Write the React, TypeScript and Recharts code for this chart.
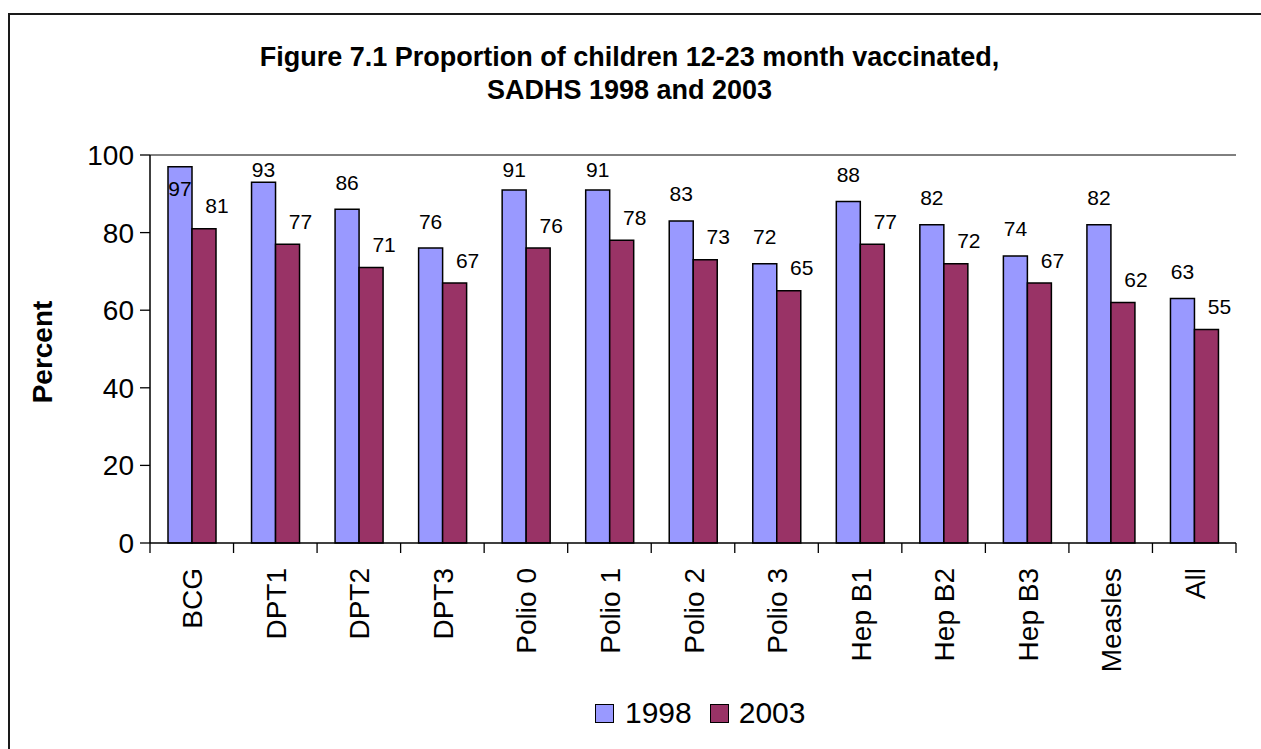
import React from "react";
import { Bar, BarChart, LabelList, ReferenceLine, XAxis, YAxis } from "recharts";

const categories = [
  "BCG",
  "DPT1",
  "DPT2",
  "DPT3",
  "Polio 0",
  "Polio 1",
  "Polio 2",
  "Polio 3",
  "Hep B1",
  "Hep B2",
  "Hep B3",
  "Measles",
  "All",
];
const values1998 = [97, 93, 86, 76, 91, 91, 83, 72, 88, 82, 74, 82, 63];
const values2003 = [81, 77, 71, 67, 76, 78, 73, 65, 77, 72, 67, 62, 55];
const yTicks = [0, 20, 40, 60, 80, 100];
const seriesNames = ["1998", "2003"];

const W = 1261;
const H = 749;
const PLOT = { left: 150, top: 155, right: 1236, bottom: 543 };
const FONT = "Arial, 'Liberation Sans', sans-serif";
const BLUE = "#9999FF";
const MAROON = "#993366";

const rows = categories.map((name, i) => ({
  name,
  y1998: values1998[i],
  y2003: values2003[i],
}));

// ticks sit on category boundaries, labels read bottom-to-top
function CategoryTick(props: any) {
  const { x, y, payload, index } = props;
  const step = (PLOT.right - PLOT.left) / categories.length;
  const last = index === categories.length - 1;
  return (
    <g>
      <line x1={x - step / 2} x2={x - step / 2} y1={y} y2={y + 10} stroke="#000" strokeWidth={1.3} />
      {last && <line x1={x + step / 2} x2={x + step / 2} y1={y} y2={y + 10} stroke="#000" strokeWidth={1.3} />}
      <text
        x={0}
        y={0}
        transform={`translate(${x + 1}, ${y + 25}) rotate(-90)`}
        textAnchor="end"
        dominantBaseline="central"
        fontFamily={FONT}
        fontSize={28}
        fill="#000"
      >
        {payload.value}
      </text>
    </g>
  );
}

// 1998 labels sit above the bar; near the top they are pushed inside it
function label1998(props: any) {
  const { x, y, width, value } = props;
  const above = y - 27;
  const cy = above < 150 ? y + 22 : Math.max(above, 169);
  return (
    <text x={x + width / 2} y={cy} textAnchor="middle" dominantBaseline="central" fontFamily={FONT} fontSize={21} fill="#000">
      {value}
    </text>
  );
}

function label2003(props: any) {
  const { x, y, width, value } = props;
  return (
    <text x={x + width / 2 + 13} y={y - 23} textAnchor="middle" dominantBaseline="central" fontFamily={FONT} fontSize={21} fill="#000">
      {value}
    </text>
  );
}

export default function App() {
  const yAxisW = 60;
  const xAxisH = 100;
  return (
    <div style={{ position: "absolute", left: 0, top: 0, width: W, height: H, background: "#fff", overflow: "hidden", fontFamily: FONT }}>
      <div
        style={{
          position: "absolute",
          left: 8,
          top: 13,
          width: W + 20,
          height: H - 15,
          border: "2px solid #1a1a1a",
          borderBottomColor: "#bbb",
          borderBottomWidth: 1,
        }}
      />
      <div style={{ position: "absolute", left: 0, width: W - 2, top: 41, textAlign: "center", fontWeight: "bold", fontSize: 27, lineHeight: "33px", color: "#000" }}>
        Figure 7.1 Proportion of children 12-23 month vaccinated,
        <br />
        SADHS 1998 and 2003
      </div>
      <div
        style={{
          position: "absolute",
          left: 43,
          top: 352,
          transform: "translate(-50%, -50%) rotate(-90deg)",
          fontWeight: "bold",
          fontSize: 28,
          whiteSpace: "nowrap",
          color: "#000",
        }}
      >
        Percent
      </div>

      <div style={{ position: "absolute", left: 0, top: 0 }}>
        <BarChart
          width={W}
          height={H}
          data={rows}
          barSize={24}
          barGap={0}
          margin={{
            left: PLOT.left - yAxisW,
            top: PLOT.top,
            right: W - PLOT.right,
            bottom: H - PLOT.bottom - xAxisH,
          }}
        >
          <XAxis
            dataKey="name"
            height={xAxisH}
            interval={0}
            tickLine={false}
            tickSize={0}
            tickMargin={0}
            axisLine={{ stroke: "#000", strokeWidth: 1.5 }}
            tick={<CategoryTick />}
          />
          <YAxis
            yAxisId="left"
            width={yAxisW}
            domain={[0, 100]}
            ticks={yTicks}
            interval={0}
            tickSize={10}
            tickMargin={6}
            axisLine={{ stroke: "#000", strokeWidth: 1.5 }}
            tickLine={{ stroke: "#000", strokeWidth: 1.3 }}
            tick={{ fill: "#000", fontSize: 28, fontFamily: FONT }}
          />
          <YAxis
            yAxisId="right"
            orientation="right"
            width={0}
            domain={[0, 100]}
            tick={false}
            tickLine={false}
            axisLine={{ stroke: "#000", strokeWidth: 1 }}
          />
          <ReferenceLine yAxisId="left" y={100} stroke="#000" strokeWidth={1} />
          <Bar yAxisId="left" dataKey="y1998" name={seriesNames[0]} fill={BLUE} stroke="#000" strokeWidth={1.5} isAnimationActive={false}>
            <LabelList dataKey="y1998" content={label1998} />
          </Bar>
          <Bar yAxisId="left" dataKey="y2003" name={seriesNames[1]} fill={MAROON} stroke="#000" strokeWidth={1.5} isAnimationActive={false}>
            <LabelList dataKey="y2003" content={label2003} />
          </Bar>
        </BarChart>
      </div>

      <div style={{ position: "absolute", left: 595, top: 697, display: "flex", alignItems: "center", fontSize: 30, color: "#000", lineHeight: "32px" }}>
        <span style={{ width: 17, height: 17, background: BLUE, border: "1.5px solid #000", marginRight: 11 }} />
        <span style={{ marginRight: 18 }}>{seriesNames[0]}</span>
        <span style={{ width: 17, height: 17, background: MAROON, border: "1.5px solid #000", marginRight: 10 }} />
        <span>{seriesNames[1]}</span>
      </div>
    </div>
  );
}
